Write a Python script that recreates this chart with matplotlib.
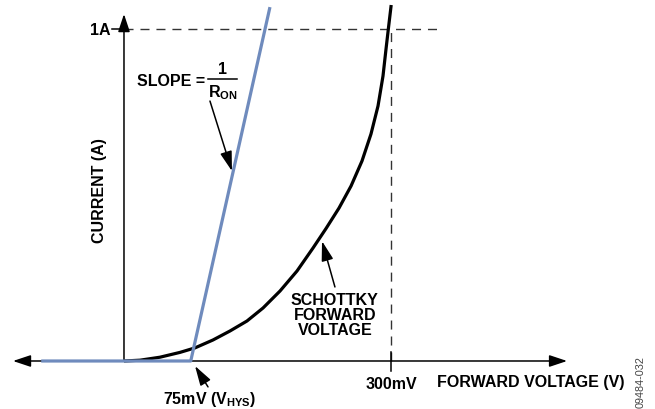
import matplotlib
matplotlib.use('Agg')
import matplotlib.pyplot as plt

plt.rcParams['font.family'] = ['Liberation Sans', 'DejaVu Sans']
plt.rcParams['mathtext.fontset'] = 'custom'
plt.rcParams['mathtext.rm'] = 'Liberation Sans:bold'
plt.rcParams['mathtext.bf'] = 'Liberation Sans:bold'
plt.rcParams['lines.scale_dashes'] = False

# data (mV, A)
v_hys = 75
v_mark = 300
i_mark = 1.0
ron_v = [-93, 75, 164]
ron_i = [0, 0, 1.066]
schottky_v = [0, 18.0, 40.4, 62.9, 79.8, 100.0, 119.1, 138.2, 156.2, 175.3, 194.4, 212.4, 227.0,
              241.6, 255.1, 267.4, 277.5, 285.4, 291.0, 294.4, 297.0, 300.2]
schottky_i = [0, 0.0024, 0.0114, 0.0259, 0.0395, 0.0633, 0.0904, 0.1205, 0.1596, 0.2108, 0.2711, 0.3404,
              0.3991, 0.4608, 0.5271, 0.6024, 0.6837, 0.7681, 0.8584, 0.9398, 1.0, 1.0723]

blue = '#6f8bbd'

fig = plt.figure(figsize=(6.55, 4.1), dpi=100)
ax = fig.add_axes([0, 0, 1, 1])
ax.set_xlim(-139.3, 596.6)
ax.set_ylim(-0.1446, 1.0904)
ax.axis('off')

arrow = dict(lw=1.1, color='black', shrinkA=0, shrinkB=0, mutation_scale=12)

# axes with arrows
ax.annotate('', xy=(-124.7, 0), xytext=(497.8, 0),
            arrowprops=dict(arrowstyle='<|-|>,head_length=0.9,head_width=0.3', **arrow))
ax.annotate('', xy=(0, 1.045), xytext=(0, 0),
            arrowprops=dict(arrowstyle='-|>,head_length=0.9,head_width=0.3', **arrow))

# dashed guide lines
ax.plot([0, 351.7], [i_mark, i_mark], color='#333333', lw=1.0, dashes=(6.5, 5))
ax.plot([v_mark, v_mark], [0, i_mark], color='#333333', lw=1.0, dashes=(6.5, 5))
ax.plot([-13.5, 0], [i_mark, i_mark], color='black', lw=1.1)
ax.plot([v_mark, v_mark], [-0.03, 0.027], color='black', lw=1.1)

# curves
ax.plot(schottky_v, schottky_i, color='black', lw=2.3, solid_capstyle='butt',
        solid_joinstyle='round', zorder=3)
ax.plot(ron_v, ron_i, color=blue, lw=2.3, solid_capstyle='butt', zorder=4)

fs = 11.5
ax.text(-15, i_mark, '1A', ha='right', va='center', fontsize=fs, fontweight='bold')
ax.text(-27, 0.515, 'CURRENT (A)', rotation=90, ha='center', va='center', fontsize=fs, fontweight='bold')
ax.text(14.6, 0.846, 'SLOPE =', ha='left', va='center', fontsize=fs, fontweight='bold')
ax.plot([94.4, 127], [0.848, 0.848], color='black', lw=1.1)
ax.text(110.7, 0.882, '1', ha='center', va='center', fontsize=fs, fontweight='bold')
ax.text(110.7, 0.812, r'R$_{\mathbf{ON}}$', ha='center', va='center', fontsize=fs, fontweight='bold')
ax.annotate('', xy=(121.3, 0.572), xytext=(96.6, 0.783),
            arrowprops=dict(arrowstyle='-|>,head_length=1.0,head_width=0.3', **arrow))

ax.text(237, 0.1386, 'SCHOTTKY\nFORWARD\nVOLTAGE', ha='center', va='center', fontsize=fs,
        fontweight='bold', linespacing=1.0)
ax.annotate('', xy=(222.5, 0.361), xytext=(237, 0.223),
            arrowprops=dict(arrowstyle='-|>,head_length=1.0,head_width=0.3', **arrow))

ax.text(v_mark, -0.069, '300mV', ha='center', va='center', fontsize=fs, fontweight='bold')
ax.text(351.7, -0.063, 'FORWARD VOLTAGE (V)', ha='left', va='center', fontsize=fs, fontweight='bold')
ax.text(43.8, -0.114, r'75mV (V$_{\mathbf{HYS}}$)', ha='left', va='center', fontsize=fs, fontweight='bold')
ax.annotate('', xy=(79.8, -0.015), xytext=(94.4, -0.078),
            arrowprops=dict(arrowstyle='-|>,head_length=1.0,head_width=0.3', **arrow))

ax.text(580.3, -0.0602, '09484-032', rotation=90, ha='center', va='center', fontsize=7.8, color='#444444')

fig.savefig('out.png', dpi=100)
